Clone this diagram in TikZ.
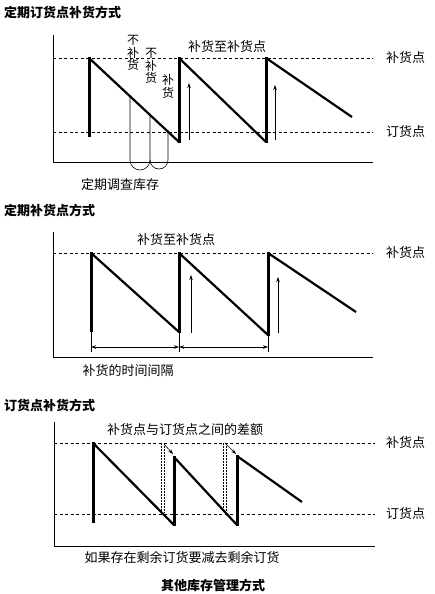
\documentclass[tikz,border=0pt]{standalone}
\usepackage{fontspec}
\newfontfamily\cjk{Noto Sans CJK SC}
\usetikzlibrary{arrows.meta}
\begin{document}
\begin{tikzpicture}[x=1pt,y=-1pt,
  axis/.style={line width=0.8pt},
  lvl/.style={line width=0.6pt, dash pattern=on 3pt off 2.5pt},
  saw/.style={line width=2.2pt, line join=miter},
  riser/.style={line width=3pt},
  thinline/.style={line width=0.6pt},
  dotline/.style={line width=1pt, dash pattern=on 1.5pt off 1.5pt},
  up/.style={line width=0.6pt,-{Stealth[length=5pt,width=3.5pt]}},
  dim/.style={line width=0.6pt,{Stealth[length=5pt,width=3.5pt]}-{Stealth[length=5pt,width=3.5pt]}},
  lab/.style={font=\cjk\fontsize{13}{13}\selectfont, inner sep=0pt},
  stack/.style={font=\cjk\fontsize{12}{12.5}\selectfont, inner sep=0pt, align=center},
  ttl/.style={font=\cjk\bfseries\fontsize{13}{13}\selectfont, inner sep=0pt}]
\useasboundingbox (0,0) rectangle (434,594);
\fill[white] (0,0) rectangle (434,594);

% ---------- Panel 1 ----------
\node[ttl,anchor=west] (t1) at (4,12) {定期订货点补货方式};
\coordinate (p1top) at (53,35);
\coordinate (p1o) at (53,162);
\coordinate (p1x) at (373,162);
\draw[axis] (p1top) -- (p1o) -- (p1x);
\coordinate (p1ra) at (53,58); \coordinate (p1rb) at (373,58);
\coordinate (p1oa) at (53,132); \coordinate (p1ob) at (373,132);
\draw[lvl] (p1ra) -- (p1rb);
\draw[lvl] (p1oa) -- (p1ob);
\node[lab,anchor=west] (p1rl) at (386,58) {补货点};
\node[lab,anchor=west] (p1ol) at (386,132) {订货点};
\draw[saw] (89,58) -- (179,142) (179,58) -- (266,142) (266,58) -- (352,117);
\draw[riser] (89,137) -- (89,57);
\draw[riser] (179,143) -- (179,57);
\draw[riser] (266,143) -- (266,57);
\draw[up] (189,140) -- (189,83);
\draw[up] (275,140) -- (275,85);
\draw[thinline] (130,96.3) -- (130,160)
  .. controls (130,165.5) and (134.5,170) .. (140,170)
  .. controls (145.5,170) and (150,165.5) .. (150,160) -- (150,114.9);
\draw[thinline] (150,160)
  .. controls (150,165) and (154,169) .. (159,169)
  .. controls (164,169) and (168,165) .. (168,160) -- (168,131.7);
\node[stack] (p1n1) at (133,53) {不\\补\\货};
\node[stack] (p1n2) at (151,66) {不\\补\\货};
\node[stack] (p1n3) at (168,86.5) {补\\货};
\node[lab] (p1top) at (227,47) {补货至补货点};
\node[lab] (p1bot) at (120,185) {定期调查库存};

% ---------- Panel 2 ----------
\node[ttl,anchor=west] (t2) at (4,210) {定期补货点方式};
\coordinate (p2top) at (53,232);
\coordinate (p2o) at (53,357);
\coordinate (p2x) at (373,357);
\draw[axis] (p2top) -- (p2o) -- (p2x);
\coordinate (p2ra) at (53,253); \coordinate (p2rb) at (373,253);
\draw[lvl] (p2ra) -- (p2rb);
\node[lab,anchor=west] (p2rl) at (386,253) {补货点};
\draw[saw] (91,253) -- (179,332) (179,253) -- (268,335) (268,253) -- (356,312);
\draw[riser] (91,332) -- (91,252);
\draw[riser] (179,333) -- (179,252);
\draw[riser] (268,336) -- (268,252);
\draw[up] (191,333) -- (191,275);
\draw[up] (278,333) -- (278,277);
\coordinate (d1) at (91,347); \coordinate (d2) at (179,347); \coordinate (d3) at (268,347);
\draw[thinline] (91,332) -- (91,352) (179,332) -- (179,352) (268,335) -- (268,352);
\draw[dim] (d1) -- (d2);
\draw[dim] (d2) -- (d3);
\node[lab] (p2topl) at (176,240) {补货至补货点};
\node[lab] (p2bot) at (128,371) {补货的时间间隔};

% ---------- Panel 3 ----------
\node[ttl,anchor=west] (t3) at (4,405) {订货点补货方式};
\coordinate (p3top) at (54,422);
\coordinate (p3o) at (54,546);
\coordinate (p3x) at (375,546);
\draw[axis] (p3top) -- (p3o) -- (p3x);
\coordinate (p3ra) at (54,443); \coordinate (p3rb) at (375,443);
\coordinate (p3oa) at (54,514); \coordinate (p3ob) at (375,514);
\draw[lvl] (p3ra) -- (p3rb);
\draw[lvl] (p3oa) -- (p3ob);
\node[lab,anchor=west] (p3rl) at (386,443) {补货点};
\node[lab,anchor=west] (p3ol) at (386,514) {订货点};
\draw[saw] (93,443) -- (174,525) (174,457) -- (237,525) (237,456) -- (302,502);
\draw[riser] (93,523) -- (93,442);
\draw[riser] (174,526) -- (174,456);
\draw[riser] (237,526) -- (237,455);
\draw[dotline] (161.8,443) -- (161.8,513) (164.2,443) -- (164.2,513);
\draw[dotline] (223.8,443) -- (223.8,512) (226.2,443) -- (226.2,512);
\draw[up] (164,444) -- (173,454);
\draw[up] (226,444) -- (236,454);
\node[lab] (p3topl) at (185,430) {补货点与订货点之间的差额};
\node[lab] (p3bot) at (182,558) {如果存在剩余订货要减去剩余订货};
\node[ttl] (t4) at (213,585) {其他库存管理方式};
\end{tikzpicture}
\end{document}
